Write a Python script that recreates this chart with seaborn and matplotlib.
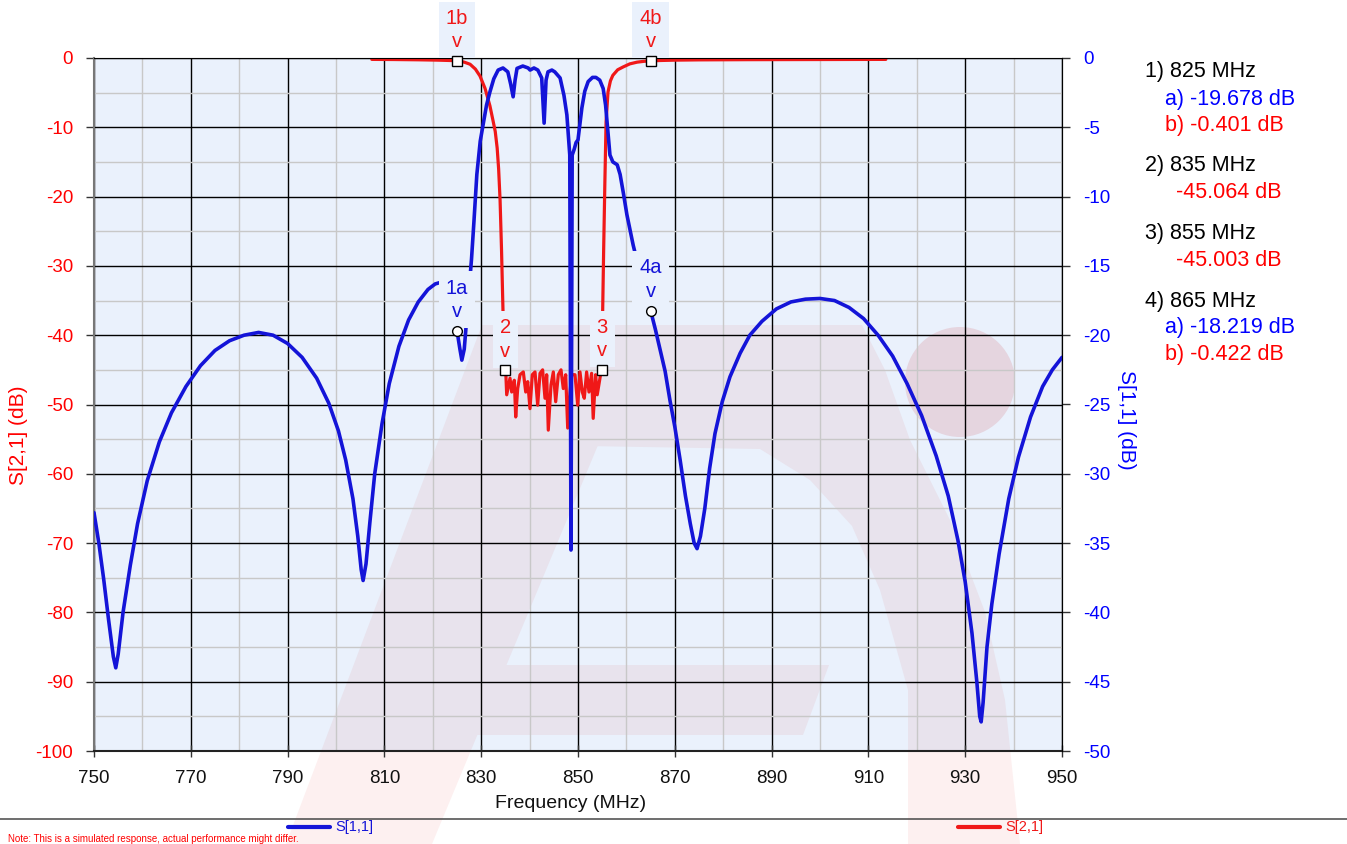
import matplotlib
matplotlib.use("Agg")
import matplotlib.pyplot as plt
import pandas as pd
import seaborn as sns
from matplotlib.lines import Line2D
from matplotlib.patches import Ellipse, Polygon
from matplotlib.ticker import MultipleLocator

# S[1,1] (return loss), right axis
freq_s11 = [
    750.0, 751.0, 752.0, 753.0, 754.0, 754.5, 755.0, 756.0, 757.5, 759.0,
    761.0, 763.5, 766.0, 769.0, 772.0, 775.0, 778.0, 781.0, 784.0, 787.0,
    790.0, 793.0, 796.0, 798.5, 800.5, 802.0, 803.5, 804.5, 805.2, 805.6,
    806.2, 807.0, 808.0, 809.5, 811.0, 813.0, 815.0, 817.0, 819.0, 820.5,
    821.5, 822.5, 823.5, 824.3, 825.0, 825.6, 826.0, 826.5, 827.0, 827.5,
    828.0, 828.5, 829.1, 829.8, 830.4, 831.1, 831.8, 832.6, 833.5, 834.5,
    835.5, 836.1, 836.6, 837.0, 837.4, 838.6, 839.7, 840.1, 840.9, 841.7,
    842.5, 843.0, 843.4, 843.8, 844.6, 845.2, 846.3, 847.1, 847.7, 848.3,
    848.55, 848.8, 849.2, 849.6, 850.0, 850.8, 851.4, 852.1, 853.0, 853.7,
    854.5, 855.2, 855.7, 856.0, 856.6, 857.2, 858.1, 858.7, 859.4, 860.1,
    861.4, 862.8, 864.3, 865.0, 866.0, 867.0, 868.0, 869.0, 870.0, 871.1,
    872.2, 873.2, 874.0, 874.6, 875.3, 876.2, 877.2, 878.3, 879.8, 881.4,
    883.5, 885.5, 888.0, 891.0, 894.0, 897.0, 900.0, 903.0, 906.0, 909.0,
    912.0, 915.0, 918.0, 921.0, 924.0, 926.5, 928.5, 930.0, 931.4, 932.4,
    933.0, 933.3, 933.7, 934.5, 935.5, 937.0, 939.0, 941.0, 943.5, 946.0,
    948.0, 950.0,
]
s11_db = [
    -32.8, -35.0, -37.6, -40.5, -43.2, -44.0, -43.0, -40.0, -36.6, -33.6,
    -30.5, -27.7, -25.6, -23.7, -22.2, -21.1, -20.4, -20.0, -19.8, -20.0,
    -20.6, -21.6, -23.1, -24.9, -26.9, -29.0, -31.8, -34.5, -36.9, -37.7,
    -36.5, -33.5, -30.0, -26.4, -23.5, -20.8, -18.9, -17.6, -16.7, -16.3,
    -16.2, -16.5, -17.4, -18.6, -19.68, -21.0, -21.8, -21.0, -18.8, -16.6,
    -14.5, -11.8, -8.4, -6.0, -4.8, -3.4, -2.45, -1.5, -0.87, -0.72,
    -1.0, -1.9, -2.8, -1.6, -0.75, -0.58, -0.72, -0.87, -0.72, -0.87,
    -1.44, -4.7, -1.6, -1.0, -0.87, -1.0, -1.44, -2.7, -4.1, -7.0,
    -35.5, -7.0, -6.6, -6.1, -5.9, -3.6, -2.4, -1.7, -1.4, -1.4,
    -1.6, -2.2, -3.4, -4.6, -7.0, -7.5, -7.7, -8.4, -9.8, -11.3,
    -13.5, -15.5, -17.6, -18.22, -19.6, -21.1, -22.6, -24.7, -26.6, -29.0,
    -31.6, -33.6, -35.0, -35.4, -34.5, -32.5, -29.6, -27.1, -24.8, -23.0,
    -21.3, -20.0, -19.0, -18.1, -17.6, -17.4, -17.35, -17.5, -18.0, -18.8,
    -20.0, -21.5, -23.5, -25.8, -28.7, -31.6, -34.8, -37.8, -41.5, -45.0,
    -47.5, -47.9, -46.5, -42.5, -39.4, -35.8, -31.8, -28.8, -25.9, -23.7,
    -22.5, -21.6,
]

# S[2,1] (insertion loss), left axis
freq_s21 = [
    807.4, 812.0, 817.0, 821.0, 823.5, 825.0, 826.5, 827.7, 828.8, 829.75,
    830.8, 831.8, 832.4, 832.9, 833.3, 833.6, 833.9, 834.2, 834.5, 834.85,
    835.06, 835.27, 835.95, 836.3, 836.84, 837.13, 837.54, 838.02, 838.7, 839.2,
    839.61, 840.08, 840.56, 841.12, 841.67, 842.15, 842.69, 843.18, 843.53, 843.86,
    844.42, 844.9, 845.39, 845.93, 846.49, 846.96, 847.46, 847.87, 848.35, 848.7,
    849.38, 849.94, 850.41, 850.89, 851.3, 851.78, 852.27, 852.81, 853.14, 853.64,
    853.97, 854.75, 855.0, 855.1, 855.3, 855.55, 855.8, 856.2, 856.7, 857.2,
    858.2, 859.3, 860.7, 862.2, 863.6, 865.0, 867.0, 870.0, 875.0, 885.0,
    900.0, 913.6,
]
s21_db = [
    -0.2, -0.22, -0.26, -0.31, -0.36, -0.401, -0.6, -0.9, -1.6, -2.6,
    -4.4, -6.9, -8.9, -10.6, -13.0, -16.0, -20.5, -27.7, -36.4, -43.6,
    -45.06, -48.6, -46.2, -48.2, -46.5, -51.8, -47.7, -45.7, -45.3, -48.2,
    -46.7, -50.6, -45.7, -45.3, -50.1, -45.5, -45.0, -49.1, -45.7, -53.7,
    -47.2, -45.3, -49.6, -45.7, -45.0, -47.7, -45.7, -53.4, -48.2, -45.7,
    -45.7, -50.1, -45.3, -48.2, -49.1, -45.3, -48.2, -45.5, -52.0, -45.7,
    -48.6, -45.3, -45.0, -36.4, -27.7, -18.0, -9.2, -4.9, -3.3, -2.5,
    -1.7, -1.3, -0.85, -0.6, -0.48, -0.422, -0.36, -0.31, -0.27, -0.24,
    -0.22, -0.2,
]

# markers
marker_ids = ["1", "2", "3", "4"]
marker_freqs = [825, 835, 855, 865]
s11_marker_names = ["1a", "4a"]
s11_marker_freqs = [825, 865]
s11_marker_db = [-19.678, -18.219]
s21_marker_names = ["1b", "2", "3", "4b"]
s21_marker_freqs = [825, 835, 855, 865]
s21_marker_db = [-0.401, -45.064, -45.003, -0.422]

note_text = "Note: This is a simulated response, actual performance might differ."

# watermark logo outline (image pixels, origin top-left)
logo_leg = [(286, 844), (432, 844), (648, 325), (482, 325)]
logo_arch = [(560, 325), (862, 325), (885, 370), (910, 440), (950, 520), (985, 612),
             (1005, 700), (1020, 844), (908, 844), (908, 690), (880, 590), (852, 526),
             (810, 480), (760, 449), (585, 446)]
logo_bar = [(470, 665), (829, 665), (803, 735), (460, 735)]
logo_dot = (960, 382, 55)

W, H = 1347, 844
BLUE = "#1414d8"
RED = "#f01818"
PLOT_BG = "#eaf1fc"

sns.set_style("white")
plt.rcParams["font.family"] = ["Liberation Sans", "DejaVu Sans"]
plt.rcParams["axes.unicode_minus"] = False

fig = plt.figure(figsize=(W / 100, H / 100), dpi=100)
ax = fig.add_axes([94 / W, 1 - 751 / H, (1062 - 94) / W, (751 - 58) / H])
ax.set_facecolor(PLOT_BG)
ax2 = ax.twinx()


def to_fig(points):
    return [(x / W, 1 - y / H) for x, y in points]


# watermark: tinted inside the plot, faint pink outside it
for shape in [logo_leg, logo_arch, logo_bar]:
    ax.add_patch(Polygon(to_fig(shape), closed=True, transform=fig.transFigure,
                         facecolor="#e8e3ed", edgecolor="none", zorder=0.3))
    fig.add_artist(Polygon(to_fig(shape), closed=True, transform=fig.transFigure,
                           facecolor="#fdf0f0", edgecolor="none", zorder=-1))
cx, cy, r = logo_dot
ax.add_patch(Ellipse((cx / W, 1 - cy / H), 2 * r / W, 2 * r / H, transform=fig.transFigure,
                     facecolor="#e5d5df", edgecolor="none", zorder=0.31))

s21_df = pd.DataFrame({"freq": freq_s21, "db": s21_db})
s11_df = pd.DataFrame({"freq": freq_s11, "db": s11_db})

sns.lineplot(data=s21_df, x="freq", y="db", ax=ax, color=RED, linewidth=2.3, sort=False)
sns.lineplot(data=s11_df, x="freq", y="db", ax=ax2, color=BLUE, linewidth=2.6, sort=False)

ax.set_xlim(750, 950)
ax.set_ylim(-100, 0)
ax2.set_ylim(-50, 0)

# marker labels (boxes hide the traces beneath them), then the markers on top
label_box = dict(boxstyle="square,pad=0.35", facecolor=PLOT_BG, edgecolor="none")
for name, f, v in zip(s21_marker_names, s21_marker_freqs, s21_marker_db):
    ax2.annotate(f"{name}\nv", xy=(f, v), xycoords=ax.transData, xytext=(0, 7),
                 textcoords="offset points", ha="center", va="bottom", color=RED,
                 fontsize=14.5, linespacing=1.3, bbox=label_box, annotation_clip=False, zorder=7)
for name, f, v in zip(s11_marker_names, s11_marker_freqs, s11_marker_db):
    ax2.annotate(f"{name}\nv", xy=(f, v), xytext=(0, 7), textcoords="offset points",
                 ha="center", va="bottom", color=BLUE, fontsize=14.5, linespacing=1.3,
                 bbox=label_box, annotation_clip=False, zorder=7)

ax2.plot(s21_marker_freqs, s21_marker_db, transform=ax.transData, ls="none", marker="s",
         ms=7, mfc="white", mec="black", mew=1, zorder=9, clip_on=False)
ax2.plot(s11_marker_freqs, s11_marker_db, ls="none", marker="o", ms=7, mfc="white",
         mec="black", mew=1, zorder=9, clip_on=False)

ax.set_xticks(range(750, 951, 20))
ax.xaxis.set_minor_locator(MultipleLocator(10))
ax.yaxis.set_major_locator(MultipleLocator(10))
ax.yaxis.set_minor_locator(MultipleLocator(5))
ax2.yaxis.set_major_locator(MultipleLocator(5))

ax.set_axisbelow(True)
ax.grid(which="major", color="black", linewidth=1.0)
ax.grid(which="minor", color="#c8c8c8", linewidth=1.0)
ax2.grid(False)

ax.tick_params(axis="y", which="major", length=6, width=1, color="#333333",
               labelcolor="red", labelsize=13.5, pad=9, left=True)
ax.tick_params(axis="x", which="major", direction="inout", length=8, width=1,
               color="#333333", labelcolor="#111111", labelsize=13.5, pad=10, bottom=True)
ax.tick_params(which="minor", length=0)
ax2.tick_params(axis="y", which="major", length=6, width=1, color="#333333",
                labelcolor="blue", labelsize=13.5, pad=9, right=True)

ax.spines["left"].set_color("#777777")
ax.spines["left"].set_linewidth(1.5)
ax.spines["bottom"].set_color("#222222")
ax.spines["bottom"].set_linewidth(1.5)
ax.spines["top"].set_color("black")
ax.spines["right"].set_color("black")
for side in ["left", "top", "bottom"]:
    ax2.spines[side].set_visible(False)
ax2.spines["right"].set_color("black")

ax.set_xlabel("Frequency (MHz)", fontsize=14, color="#111111")
ax.xaxis.set_label_coords(0.492, -0.063)
ax.set_ylabel("S[2,1] (dB)", fontsize=15, color="red")
ax.yaxis.set_label_coords(-0.068, 0.456)
ax2.set_ylabel("S[1,1] (dB)", fontsize=15, color="blue", rotation=-90, va="center")
ax2.yaxis.set_label_coords(1.067, 0.478)

# marker readout on the right
s21_lookup = dict(zip(s21_marker_freqs, s21_marker_db))
s11_lookup = dict(zip(s11_marker_freqs, s11_marker_db))
ypix = 72
for mid, f in zip(marker_ids, marker_freqs):
    fig.text(1145 / W, 1 - ypix / H, f"{mid}) {f} MHz", color="black", fontsize=15.5, va="center")
    ypix += 27
    if f in s11_lookup:
        fig.text(1165 / W, 1 - ypix / H, f"a) {s11_lookup[f]:.3f} dB", color="blue",
                 fontsize=15.5, va="center")
        ypix += 26.5
        fig.text(1165 / W, 1 - ypix / H, f"b) {s21_lookup[f]:.3f} dB", color="red",
                 fontsize=15.5, va="center")
    else:
        fig.text(1176 / W, 1 - ypix / H, f"{s21_lookup[f]:.3f} dB", color="red",
                 fontsize=15.5, va="center")
    ypix += 40.5

# bottom legend strip
fig.add_artist(Line2D([0, 1], [1 - 819 / H] * 2, color="#555555", lw=1.2, transform=fig.transFigure))
for x0, color, name in [(288, BLUE, "S[1,1]"), (958, RED, "S[2,1]")]:
    fig.add_artist(Line2D([x0 / W, (x0 + 42) / W], [1 - 827 / H] * 2, color=color, lw=3,
                          transform=fig.transFigure))
    fig.text((x0 + 47) / W, 1 - 827 / H, name, color=color, fontsize=10.5, va="center")
fig.text(8 / W, 0.5 / H, note_text, color="red", fontsize=7, va="bottom")

fig.savefig("out.png", dpi=100)
